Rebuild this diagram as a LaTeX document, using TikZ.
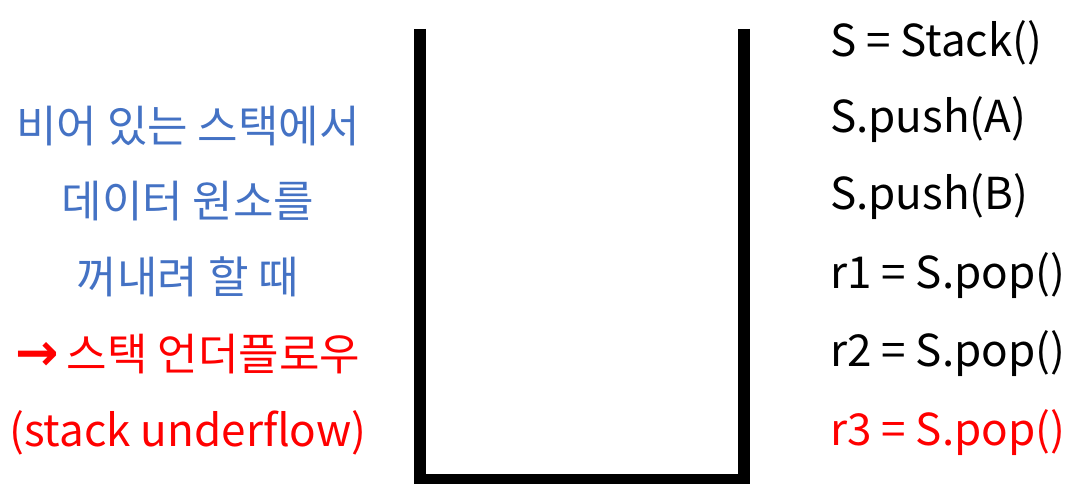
\documentclass[tikz,border=0pt]{standalone}
\usepackage{fontspec}
\setmainfont{Noto Sans CJK KR}
\newfontfamily\arrowfont{DejaVu Sans}
\definecolor{txtblue}{RGB}{68,114,196}
\definecolor{txtred}{RGB}{255,0,0}
\begin{document}
\begin{tikzpicture}[x=1pt,y=-1pt,
  lefttxt/.style={font=\fontsize{44}{46}\selectfont, anchor=center, inner sep=0pt},
  codetxt/.style={font=\fontsize{44}{46}\selectfont, anchor=west, inner sep=0pt},
  wall/.style={line width=12pt, black},
  floor/.style={line width=10pt, black}]
\useasboundingbox (0,0) rectangle (1084,497);
% stack container
\coordinate (bl) at (420,479);
\coordinate (br) at (744,479);
\draw[wall] (420,29) -- (420,484);
\draw[wall] (744,29) -- (744,484);
\draw[floor] (bl) -- (br);
% left text
\node[lefttxt, text=txtblue] (l1) at (188,126) {비어 있는 스택에서};
\node[lefttxt, text=txtblue] (l2) at (188,201) {데이터 원소를};
\node[lefttxt, text=txtblue] (l3) at (188,277) {꺼내려 할 때};
\node[lefttxt, text=txtred] (l4) at (188,354) {{\arrowfont\bfseries\fontsize{52}{52}\selectfont →}\,스택 언더플로우};
\node[lefttxt, text=txtred] (l5) at (188,433) {(stack underflow)};
% code
\node[codetxt] (c1) at (830,43) {S = Stack()};
\node[codetxt] (c2) at (830,120) {S.push(A)};
\node[codetxt] (c3) at (830,197) {S.push(B)};
\node[codetxt] (c4) at (830,276) {r1 = S.pop()};
\node[codetxt] (c5) at (830,354) {r2 = S.pop()};
\node[codetxt, text=txtred] (c6) at (830,433) {r3 = S.pop()};
\end{tikzpicture}
\end{document}
